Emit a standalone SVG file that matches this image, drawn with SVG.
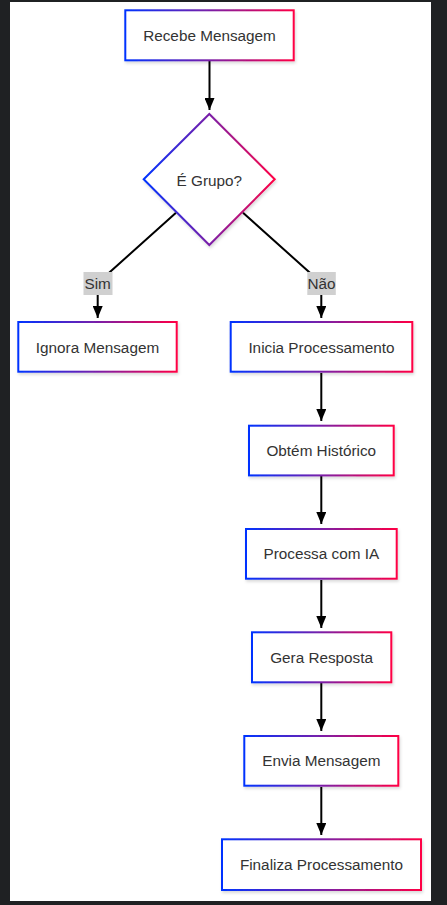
<svg xmlns="http://www.w3.org/2000/svg" width="447" height="905" viewBox="0 0 447 905">
<style>
  .lbl{font-family:"Liberation Sans",Arial,sans-serif;font-size:15.3px;fill:#333;text-anchor:middle;dominant-baseline:central}
  .box{fill:#fff;stroke:url(#grad);stroke-width:2;filter:url(#sh)}
  .edge{fill:none;stroke:#000;stroke-width:2}
  .elbg{fill:#d0d0d0}
</style>
<defs>
  <linearGradient id="grad" x1="0" y1="0" x2="1" y2="0">
    <stop offset="0" stop-color="#0033ff"/>
    <stop offset="0.5" stop-color="#7a1fa8"/>
    <stop offset="1" stop-color="#ff0044"/>
  </linearGradient>
  <filter id="sh" x="-10%" y="-10%" width="120%" height="130%">
    <feDropShadow dx="1" dy="2" stdDeviation="1.5" flood-color="#000" flood-opacity="0.15"/>
  </filter>
  <marker id="arr" viewBox="0 0 12 10" refX="12" refY="5" markerWidth="12" markerHeight="10" markerUnits="userSpaceOnUse" orient="auto">
    <path d="M0,0 L12,5 L0,10 z" fill="#000"/>
  </marker>
</defs>
<rect x="0" y="0" width="447" height="905" fill="#1f2123"/>
<rect x="10" y="2" width="421" height="899" fill="#fff"/>

<g id="edges">
  <path class="edge" d="M209.5,61 L209.5,110" marker-end="url(#arr)"/>
  <path class="edge" d="M176,212.7 L97.7,283 L97.7,318" marker-end="url(#arr)"/>
  <path class="edge" d="M243,212.7 L321.3,283 L321.3,318" marker-end="url(#arr)"/>
  <path class="edge" d="M321.3,373 L321.3,421" marker-end="url(#arr)"/>
  <path class="edge" d="M321.3,476 L321.3,524" marker-end="url(#arr)"/>
  <path class="edge" d="M321.3,580 L321.3,628" marker-end="url(#arr)"/>
  <path class="edge" d="M321.3,683 L321.3,731" marker-end="url(#arr)"/>
  <path class="edge" d="M321.3,787 L321.3,835" marker-end="url(#arr)"/>
  <g id="label-sim">
    <rect class="elbg" x="83.5" y="272" width="29" height="23"/>
    <text class="lbl" x="97.7" y="283.5">Sim</text>
  </g>
  <g id="label-nao">
    <rect class="elbg" x="307.3" y="272" width="28.5" height="23"/>
    <text class="lbl" x="321.5" y="283.5">Não</text>
  </g>
</g>

<g id="recebe">
  <rect class="box" x="125.3" y="10.3" width="168.4" height="50"/>
  <text class="lbl" x="209.5" y="35.3">Recebe Mensagem</text>
</g>
<g id="grupo">
  <polygon class="box" points="209.3,114 274.7,179.3 209.3,245 143.7,179.3"/>
  <text class="lbl" x="209.3" y="180">É Grupo?</text>
</g>
<g id="ignora">
  <rect class="box" x="18.3" y="322" width="158.4" height="49.7"/>
  <text class="lbl" x="97.5" y="347">Ignora Mensagem</text>
</g>
<g id="inicia">
  <rect class="box" x="230.7" y="322" width="181.6" height="49.7"/>
  <text class="lbl" x="321.5" y="347">Inicia Processamento</text>
</g>
<g id="obtem">
  <rect class="box" x="249" y="425.7" width="144.7" height="49.7"/>
  <text class="lbl" x="321.3" y="450.5">Obtém Histórico</text>
</g>
<g id="processa">
  <rect class="box" x="246" y="529" width="150.7" height="49.7"/>
  <text class="lbl" x="321.3" y="553.8">Processa com IA</text>
</g>
<g id="gera">
  <rect class="box" x="252" y="632.3" width="139.3" height="50"/>
  <text class="lbl" x="321.6" y="657.3">Gera Resposta</text>
</g>
<g id="envia">
  <rect class="box" x="244.3" y="736" width="154" height="49.7"/>
  <text class="lbl" x="321.3" y="760.8">Envia Mensagem</text>
</g>
<g id="finaliza">
  <rect class="box" x="222" y="839.3" width="199" height="50.7"/>
  <text class="lbl" x="321.5" y="864.6">Finaliza Processamento</text>
</g>
</svg>
